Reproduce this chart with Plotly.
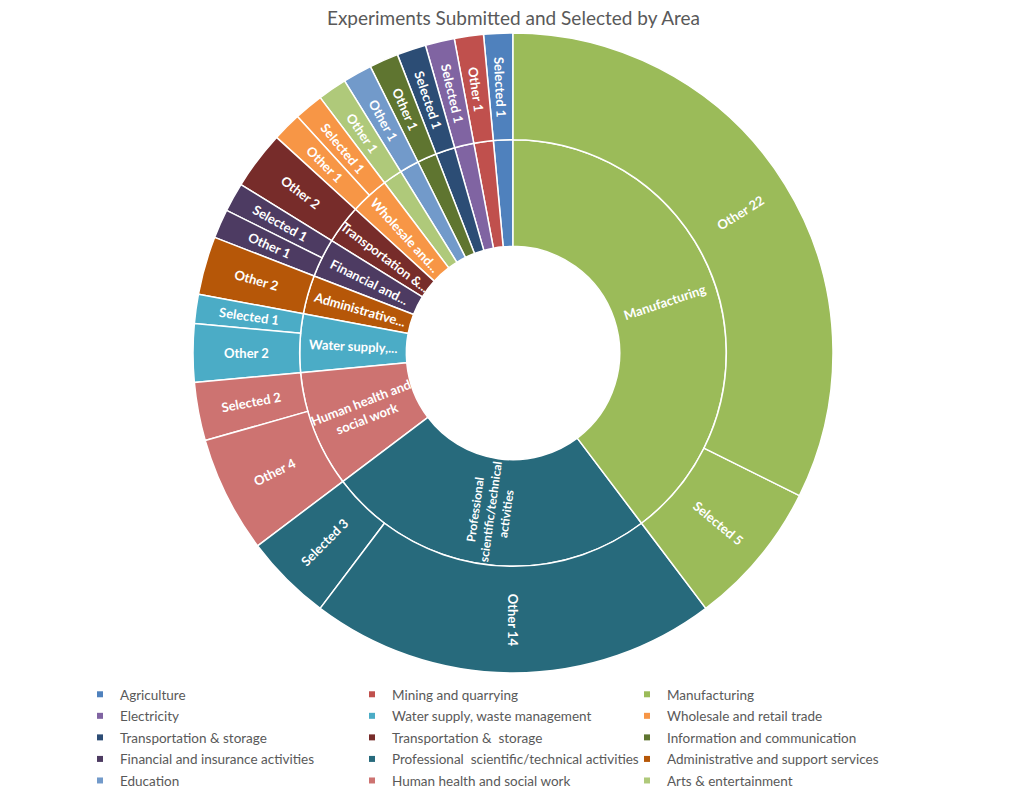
import math
import plotly.graph_objects as go

# ---- data (legend order) ----
categories = [
    "Agriculture", "Mining and quarrying", "Manufacturing",
    "Electricity", "Water supply, waste management", "Wholesale and retail trade",
    "Transportation & storage", "Transportation &  storage", "Information and communication",
    "Financial and insurance activities", "Professional  scientific/technical activities",
    "Administrative and support services",
    "Education", "Human health and social work", "Arts & entertainment",
]
colors = [
    "#4F81BD", "#C0504D", "#9BBB59",
    "#8064A2", "#4BACC6", "#F79646",
    "#2C4D75", "#772C2A", "#5F7530",
    "#4D3B62", "#276A7C", "#B65708",
    "#729ACA", "#CD7371", "#AFC97A",
]
selected = [1, 0, 5, 1, 1, 1, 1, 0, 0, 1, 3, 0, 0, 2, 0]
other = [0, 1, 22, 0, 2, 1, 0, 2, 1, 1, 14, 2, 1, 4, 1]
ring_labels = [
    "", "", "Manufacturing",
    "", "Water supply,...", "Wholesale and...",
    "", "Transportation &...", "",
    "Financial and...", "Professional<br>scientific/technical<br>activities", "Administrative...",
    "", "Human health and<br>social work", "",
]
# clockwise order of categories starting at 12 o'clock
clockwise_order = [2, 10, 13, 4, 11, 9, 7, 5, 14, 12, 8, 6, 3, 1, 0]
child_names = ["Other", "Selected"]  # clockwise order inside each category

W, H = 1027, 800
cx, cy, R = 513, 353, 320
total = sum(selected) + sum(other)

# ---- sunburst nodes (plotly draws counter-clockwise, so reverse) ----
ids, labels, parents, values, node_colors = ["root"], [""], [""], [total], ["white"]
for ci in reversed(clockwise_order):
    cid = "c%d" % ci
    ids.append(cid)
    labels.append(categories[ci])
    parents.append("root")
    values.append(selected[ci] + other[ci])
    node_colors.append(colors[ci])
    kids = {"Other": other[ci], "Selected": selected[ci]}
    for name in reversed(child_names):
        if kids[name] <= 0:
            continue
        ids.append(cid + "/" + name)
        labels.append(name)
        parents.append(cid)
        values.append(kids[name])
        node_colors.append(colors[ci])

fig = go.Figure()
fig.add_trace(go.Sunburst(
    ids=ids, labels=labels, parents=parents, values=values,
    branchvalues="total", sort=False, rotation=90,
    textinfo="none",
    marker=dict(colors=node_colors, line=dict(color="white", width=1.5)),
    leaf=dict(opacity=1),
    hoverinfo="label+value",
    domain=dict(x=[(cx - R) / W, (cx + R) / W], y=[1 - (cy + R) / H, 1 - (cy - R) / H]),
))


# ---- data labels: radial text at each sector's mid-angle ----
def add_label(text, start, end, radius, size):
    theta = (start + end) / 2 / total * 360.0
    t = math.radians(theta)
    angle = theta - 90 if theta <= 180 else theta - 270
    fig.add_annotation(
        x=(cx + radius * math.sin(t)) / W, y=1 - (cy - radius * math.cos(t)) / H,
        xref="paper", yref="paper", xanchor="center", yanchor="middle",
        text=text, showarrow=False, textangle=angle, align="center",
        font=dict(family="Lato", size=size, color="white", weight=700),
    )


r_inner = R * 0.5
r_outer = R * 5 / 6
pos = 0
for ci in clockwise_order:
    cat_total = selected[ci] + other[ci]
    if ring_labels[ci]:
        n_lines = ring_labels[ci].count("<br>") + 1
        add_label(ring_labels[ci], pos, pos + cat_total, r_inner, 12 if n_lines > 2 else 13)
    kids = {"Other": other[ci], "Selected": selected[ci]}
    p = pos
    for name in child_names:
        v = kids[name]
        if v <= 0:
            continue
        add_label("%s %d" % (name, v), p, p + v, r_outer, 13)
        p += v
    pos += cat_total

# ---- legend via placeholder traces in three column legends ----
legend_names = ["legend", "legend2", "legend3"]
for i, cat in enumerate(categories):
    fig.add_trace(go.Scatter(
        x=[None], y=[None], mode="markers", name=cat, legendgroup=cat,
        marker=dict(symbol="square", size=6, color=colors[i]),
        legend=legend_names[i % 3], showlegend=True, hoverinfo="skip",
    ))

col_x = [80, 352, 627]
leg_font = dict(family="Lato", size=13.5, color="#595959")
legend_common = dict(orientation="v", xanchor="left", yanchor="top", y=1 - 679 / H,
                     font=leg_font, bgcolor="rgba(0,0,0,0)", tracegroupgap=1,
                     itemclick=False, itemdoubleclick=False)

fig.update_layout(
    width=W, height=H,
    margin=dict(l=0, r=0, t=0, b=0),
    paper_bgcolor="white", plot_bgcolor="white",
    title=dict(text="Experiments Submitted and Selected by Area",
               x=0.5, xanchor="center", xref="paper",
               y=1 - 18 / H, yanchor="middle", yref="container",
               font=dict(family="Lato", size=19, color="#595959")),
    xaxis=dict(visible=False), yaxis=dict(visible=False),
    legend=dict(x=col_x[0] / W, **legend_common),
    legend2=dict(x=col_x[1] / W, **legend_common),
    legend3=dict(x=col_x[2] / W, **legend_common),
)

# the page body normally has an 8px margin; remove it so the figure fills the window
fig.write_html("out.html", config={"displayModeBar": False},
               post_script="document.body.style.margin='0';")
